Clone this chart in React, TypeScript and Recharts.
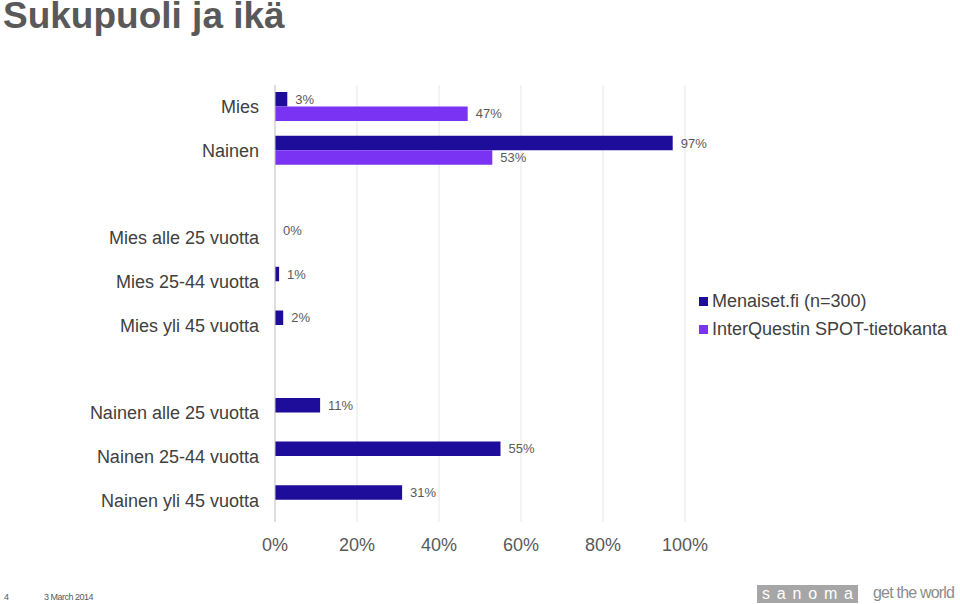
import { BarChart, Bar, XAxis, YAxis, CartesianGrid, Legend, LabelList } from "recharts";

const categories = [
  "Mies",
  "Nainen",
  "",
  "Mies alle 25 vuotta",
  "Mies 25-44 vuotta",
  "Mies yli 45 vuotta",
  "",
  "Nainen alle 25 vuotta",
  "Nainen 25-44 vuotta",
  "Nainen yli 45 vuotta",
];
const menaiset = [3, 97, null, 0, 1, 2, null, 11, 55, 31];
const interquestin = [47, 53, null, null, null, null, null, null, null, null];
const xTicks = [0, 20, 40, 60, 80, 100];

const DARK = "#1e0c9a";
const PURPLE = "#7a33f2";
const FONT = "'Liberation Sans', Arial, sans-serif";

const data = categories.map((name, i) => ({
  name,
  menaiset: menaiset[i],
  interquestin: interquestin[i],
}));

const pct = (v: any) => (v == null ? "" : `${v}%`);

const legendItems = [
  { label: "Menaiset.fi (n=300)", color: DARK },
  { label: "InterQuestin SPOT-tietokanta", color: PURPLE },
];

function LegendBox() {
  return (
    <div style={{ fontFamily: FONT, fontSize: 18, color: "#404040", textAlign: "left" }}>
      {legendItems.map((it) => (
        <div key={it.label} style={{ display: "flex", alignItems: "center", height: 28 }}>
          <span style={{ width: 9, height: 9, background: it.color, marginRight: 4, display: "inline-block" }} />
          <span>{it.label}</span>
        </div>
      ))}
    </div>
  );
}

export default function App() {
  return (
    <div style={{ position: "absolute", left: 0, top: 0, width: 960, height: 604, background: "#fff", fontFamily: FONT }}>
      <div style={{ position: "absolute", left: 3, top: 1, fontSize: 37, lineHeight: "29px", fontWeight: "bold", color: "#595959" }}>
        Sukupuoli ja ikä
      </div>

      <BarChart
        width={960}
        height={604}
        data={data}
        layout="vertical"
        margin={{ top: 85, right: 275, bottom: 42, left: 0 }}
        barGap={0}
        barSize={14.5}
      >
        <CartesianGrid horizontal={false} stroke="#e6e6e6" />
        <XAxis
          type="number"
          domain={[0, 100]}
          ticks={xTicks}
          interval={0}
          tickFormatter={(v) => `${v}%`}
          axisLine={false}
          tickLine={false}
          tickMargin={10}
          height={40}
          tick={{ fontSize: 18, fill: "#595959", fontFamily: FONT }}
        />
        <YAxis
          type="category"
          dataKey="name"
          width={275}
          axisLine={{ stroke: "#c8c8c8" }}
          tickLine={false}
          tickMargin={10}
          interval={0}
          tick={{ fontSize: 18, fill: "#404040", fontFamily: FONT }}
        />
        <Legend
          layout="horizontal"
          verticalAlign="middle"
          align="center"
          wrapperStyle={{ left: 699, top: 287, width: 260 }}
          content={() => <LegendBox />}
        />
        <Bar dataKey="menaiset" fill={DARK} minPointSize={0.01} isAnimationActive={false}>
          <LabelList dataKey="menaiset" position="right" offset={8} formatter={pct} style={{ fontSize: 13, fill: "#595959", fontFamily: FONT }} />
        </Bar>
        <Bar dataKey="interquestin" fill={PURPLE} isAnimationActive={false}>
          <LabelList dataKey="interquestin" position="right" offset={8} formatter={pct} style={{ fontSize: 13, fill: "#595959", fontFamily: FONT }} />
        </Bar>
      </BarChart>

      <div style={{ position: "absolute", left: 4, top: 592, fontSize: 9, color: "#595959" }}>4</div>
      <div style={{ position: "absolute", left: 44, top: 592, fontSize: 9, color: "#595959", letterSpacing: -0.5 }}>3 March 2014</div>
      <div
        style={{
          position: "absolute",
          left: 757,
          top: 585,
          width: 101,
          height: 18,
          boxSizing: "border-box",
          padding: "0 5px",
          background: "#a6a6a6",
          color: "#fff",
          fontSize: 16,
          lineHeight: "17px",
          display: "flex",
          justifyContent: "space-between",
        }}
      >
        {"sanoma".split("").map((c, i) => (
          <span key={i}>{c}</span>
        ))}
      </div>
      <div style={{ position: "absolute", left: 873, top: 584, fontSize: 16, color: "#8c8c8c", letterSpacing: -0.8 }}>get the world</div>
    </div>
  );
}
